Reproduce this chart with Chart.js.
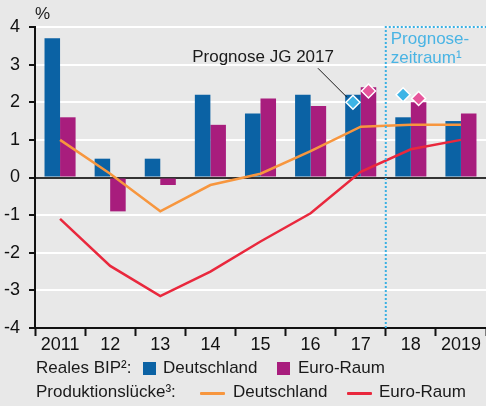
<!DOCTYPE html>
<html>
<head>
<meta charset="utf-8">
<script src="https://cdn.jsdelivr.net/npm/chart.js@4.4.1/dist/chart.umd.min.js"></script>
<style>
  html, body { margin: 0; padding: 0; background: #e8e8e8; }
  body { width: 486px; height: 406px; position: relative; overflow: hidden;
         font-family: "Liberation Sans", Arial, sans-serif; color: #1a1a1a; }
  #wrap { position: absolute; left: 0; top: 0; width: 486px; height: 406px; }
  .lg { position: absolute; font-size: 17px; line-height: 20px; white-space: nowrap; }
  .sq { position: absolute; width: 13px; height: 13px; }
  .ln { position: absolute; width: 25px; height: 3px; border-radius: 1px; }
</style>
</head>
<body>
<div id="wrap"><canvas id="chart" width="486" height="406"></canvas></div>

<div class="lg" style="left:36px; top:358px;">Reales BIP²:</div>
<div class="sq" style="left:143px; top:362px; background:#0b62a4;"></div>
<div class="lg" style="left:163px; top:358px;">Deutschland</div>
<div class="sq" style="left:277px; top:362px; background:#a81d7d;"></div>
<div class="lg" style="left:298px; top:358px;">Euro-Raum</div>

<div class="lg" style="left:36px; top:382px;">Produktionslücke³:</div>
<div class="ln" style="left:200px; top:392px; background:#f7963e;"></div>
<div class="lg" style="left:233px; top:382px;">Deutschland</div>
<div class="ln" style="left:347px; top:392px; background:#e9283d;"></div>
<div class="lg" style="left:379px; top:382px;">Euro-Raum</div>

<script>
// Jahre
const years = ['2011', '12', '13', '14', '15', '16', '17', '18', '2019'];

// Reales BIP, Veränderung gegenüber Vorjahr in %
const bipDeutschland = [3.7, 0.5, 0.5, 2.2, 1.7, 2.2, 2.2, 1.6, 1.5];
const bipEuroRaum = [1.6, -0.9, -0.2, 1.4, 2.1, 1.9, 2.4, 2.0, 1.7];

// Produktionslücke in %
const luckeDeutschland = [1.0, 0.1, -0.9, -0.2, 0.1, 0.7, 1.35, 1.4, 1.4];
const luckeEuroRaum = [-1.1, -2.35, -3.15, -2.5, -1.7, -0.95, 0.15, 0.75, 1.0];

// Prognose JG 2017 (Rauten)
const prognoseDeutschland = [null, null, null, null, null, null, 2.0, 2.2, null];
const prognoseEuroRaum = [null, null, null, null, null, null, 2.3, 2.1, null];

const yTicks = [-4, -3, -2, -1, 0, 1, 2, 3, 4];

const FONT = '"Liberation Sans", Arial, sans-serif';

function drawDiamond(ctx, x, y, r, fill) {
    ctx.beginPath();
    ctx.moveTo(x, y - r);
    ctx.lineTo(x + r, y);
    ctx.lineTo(x, y + r);
    ctx.lineTo(x - r, y);
    ctx.closePath();
    ctx.fillStyle = fill;
    ctx.fill();
    ctx.lineWidth = 1.5;
    ctx.strokeStyle = '#ffffff';
    ctx.stroke();
}

// Prognosezeitraum-Rahmen, Rauten und Beschriftung
const extras = {
    id: 'extras',
    afterDatasetsDraw(chart) {
        const ctx = chart.ctx;
        const x = chart.scales.x;
        const y = chart.scales.y;
        const area = chart.chartArea;
        const metaDE = chart.getDatasetMeta(0);
        const metaEA = chart.getDatasetMeta(1);

        // gestrichelter Rahmen
        const idx = years.indexOf('18');
        const xs = (x.getPixelForValue(idx - 1) + x.getPixelForValue(idx)) / 2;
        ctx.save();
        ctx.strokeStyle = '#3ab0e2';
        ctx.lineWidth = 2;
        ctx.setLineDash([2, 2]);
        ctx.beginPath();
        ctx.moveTo(xs, area.bottom);
        ctx.lineTo(xs, area.top);
        ctx.lineTo(area.right, area.top);
        ctx.stroke();
        ctx.setLineDash([]);

        ctx.fillStyle = '#4ab4e4';
        ctx.font = '17px ' + FONT;
        ctx.textBaseline = 'alphabetic';
        ctx.textAlign = 'left';
        ctx.fillText('Prognose-', xs + 5, area.top + 17);
        ctx.fillText('zeitraum¹', xs + 5, area.top + 36);

        // Rauten
        let first = null;
        prognoseDeutschland.forEach((v, i) => {
            if (v === null) return;
            const px = metaDE.data[i].x, py = y.getPixelForValue(v);
            if (!first) first = { x: px, y: py };
            drawDiamond(ctx, px, py, 7, '#3db4e6');
        });
        prognoseEuroRaum.forEach((v, i) => {
            if (v === null) return;
            drawDiamond(ctx, metaEA.data[i].x, y.getPixelForValue(v), 7, '#e6559b');
        });

        // Hinweislinie und Text
        ctx.strokeStyle = '#1a1a1a';
        ctx.lineWidth = 1;
        ctx.beginPath();
        ctx.moveTo(first.x - 35, first.y - 34);
        ctx.lineTo(first.x - 6, first.y - 5);
        ctx.stroke();
        ctx.fillStyle = '#1a1a1a';
        ctx.textAlign = 'right';
        ctx.fillText('Prognose JG 2017', first.x - 19, first.y - 40);

        // Prozentzeichen
        ctx.textAlign = 'left';
        ctx.fillText('%', area.left, area.top - 8);
        ctx.restore();
    }
};

new Chart(document.getElementById('chart').getContext('2d'), {
    type: 'bar',
    data: {
        labels: years,
        datasets: [
            { label: 'Deutschland', data: bipDeutschland, backgroundColor: '#0b62a4', order: 2 },
            { label: 'Euro-Raum', data: bipEuroRaum, backgroundColor: '#a81d7d', order: 2 },
            { type: 'line', label: 'Deutschland', data: luckeDeutschland, borderColor: '#f7963e',
              borderWidth: 2.5, pointRadius: 0, tension: 0, order: 1 },
            { type: 'line', label: 'Euro-Raum', data: luckeEuroRaum, borderColor: '#e9283d',
              borderWidth: 2.5, pointRadius: 0, tension: 0, order: 0 }
        ]
    },
    options: {
        responsive: false,
        animation: false,
        categoryPercentage: 0.62,
        barPercentage: 1.0,
        layout: { padding: { top: 27, right: 0, bottom: 50, left: 0 } },
        plugins: { legend: { display: false }, tooltip: { enabled: false } },
        scales: {
            x: {
                grid: { offset: true, drawOnChartArea: false, tickLength: 8, tickColor: '#111', tickWidth: 2 },
                border: { color: '#111', width: 2 },
                ticks: { color: '#111', font: { size: 18, family: FONT }, padding: -2, maxRotation: 0 },
                afterFit(scale) { scale.height = 28; }
            },
            y: {
                min: -4,
                max: 4,
                afterBuildTicks(scale) { scale.ticks = yTicks.map(v => ({ value: v })); },
                grid: {
                    color: ctx => ctx.tick && ctx.tick.value === 0 ? '#333' : '#ffffff',
                    lineWidth: 2,
                    tickLength: 6,
                    tickColor: '#111',
                    tickWidth: 2
                },
                border: { color: '#111', width: 2 },
                ticks: { color: '#111', font: { size: 18, family: FONT }, padding: 9 },
                afterFit(scale) { scale.width = 35; }
            }
        }
    },
    plugins: [extras]
});
</script>
</body>
</html>
